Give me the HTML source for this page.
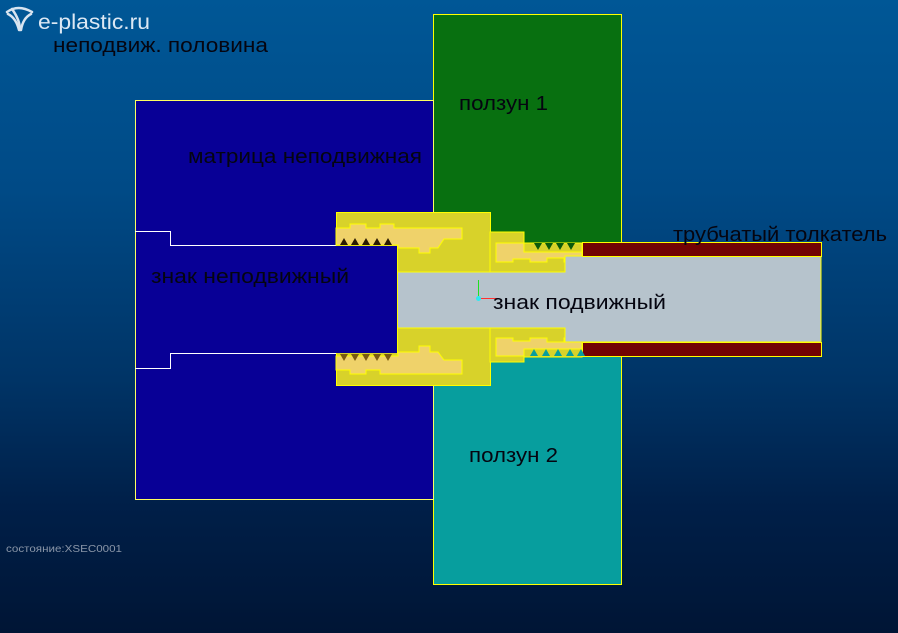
<!DOCTYPE html>
<html><head><meta charset="utf-8"><style>
html,body{margin:0;padding:0;width:898px;height:633px;overflow:hidden}
body{background:linear-gradient(#005796 0%,#004a86 30%,#003466 60%,#001f48 80%,#001535 100%)}
svg{position:absolute;left:0;top:0}
text{font-family:"Liberation Sans","DejaVu Sans",sans-serif}
</style></head><body>
<svg width="898" height="633" viewBox="0 0 898 633">
<rect x="433.5" y="14.5" width="188" height="230" fill="#087010" stroke="#ffff00" stroke-width="1"/>
<rect x="433.5" y="355.5" width="188" height="229" fill="#079e9e" stroke="#ffff00" stroke-width="1"/>
<rect x="135.5" y="100.5" width="298" height="399" fill="#080096" stroke="#ffff60" stroke-width="1"/>
<polyline points="135,231.5 170.5,231.5 170.5,245.5 398,245.5" fill="none" stroke="#ffffff" stroke-width="1"/>
<polyline points="135,368.5 170.5,368.5 170.5,353.5 398,353.5" fill="none" stroke="#ffffff" stroke-width="1"/>
<rect x="336.5" y="212.5" width="154" height="173" fill="#d8d22a" stroke="#ffff00" stroke-width="1"/>
<polygon points="490,232 524,232 524,243 582,243 582,357 524,357 524,362 490,362" fill="#d8d22a" stroke="#ffff00" stroke-width="1"/>
<polygon points="336,228 350,228 350,224 366,224 366,228 380,228 380,224 394,224 394,228 462,228 462,239 444,239 438,248 430,248 430,253 419,253 419,248 398,248 398,245 336,245" fill="#efd26a" stroke="#ffff00" stroke-width="1"/>
<polygon points="336,370 350,370 350,374 366,374 366,370 380,370 380,374 462,374 462,360 444,360 438,352 430,352 430,346 419,346 419,352 398,352 398,356 336,356" fill="#efd26a" stroke="#ffff00" stroke-width="1"/>
<polygon points="496,243 524,243 524,252 582,252 582,262 564,262 564,258 547,258 547,262 530,262 530,259 513,259 513,262 496,262" fill="#efd26a" stroke="#ffff00" stroke-width="1"/>
<polygon points="496,338 513,338 513,341 530,341 530,338 547,338 547,342 564,342 564,338 582,338 582,349 524,349 524,356 496,356" fill="#efd26a" stroke="#ffff00" stroke-width="1"/>
<polygon points="397,272 565,272 565,256 821,256 821,342 565,342 565,328 397,328" fill="#b6c3cc" stroke="#ffff00" stroke-width="1"/>
<rect x="398" y="273" width="167" height="54" fill="#b6c3cc"/>
<rect x="136" y="246" width="261" height="107" fill="#080096"/>
<line x1="397.5" y1="245" x2="397.5" y2="354" stroke="#ffff00"/>
<rect x="582.5" y="242.5" width="239" height="14" fill="#720303" stroke="#ffff00" stroke-width="1"/>
<rect x="582.5" y="342.5" width="239" height="14" fill="#720303" stroke="#ffff00" stroke-width="1"/>
<g fill="#2a1a00">
<polygon points="340,245 344,238 348,245"/><polygon points="351,245 355,238 359,245"/><polygon points="362,245 366,238 370,245"/><polygon points="373,245 377,238 381,245"/><polygon points="384,245 388,238 392,245"/>
</g>
<g fill="#7a5a10">
<polygon points="340,354 344,361 348,354"/><polygon points="351,354 355,361 359,354"/><polygon points="362,354 366,361 370,354"/><polygon points="373,354 377,361 381,354"/><polygon points="384,354 388,361 392,354"/>
</g>
<g fill="#0a5a0a">
<polygon points="534,243 538,250 542,243"/><polygon points="545,243 549,250 553,243"/><polygon points="556,243 560,250 564,243"/><polygon points="567,243 571,250 575,243"/>
</g>
<g fill="#079e9e">
<polygon points="530,356 534,349 538,356"/><polygon points="542,356 546,349 550,356"/><polygon points="554,356 558,349 562,356"/><polygon points="566,356 570,349 574,356"/><polygon points="577,356 581,349 585,356"/>
</g>
<line x1="478.5" y1="280" x2="478.5" y2="298" stroke="#20e020" stroke-width="1"/>
<line x1="478" y1="298.5" x2="498" y2="298.5" stroke="#ff3030" stroke-width="1"/>
<circle cx="478.5" cy="298.5" r="2.5" fill="#30e8f0"/>
<g fill="none" stroke="#d8e4f0" stroke-width="2.5" stroke-linecap="round">
<path d="M7,12 Q18,4 32,12"/><path d="M8,14 Q16,18 19,30"/><path d="M31,14 Q23,18 21,30"/><path d="M12,9 Q20,20 20,30"/>
</g>
<text x="38" y="29" font-size="21" fill="#dce8f4" textLength="112" lengthAdjust="spacingAndGlyphs">e-plastic.ru</text>
<g fill="#050510" font-size="20">
<text x="53" y="52" textLength="215" lengthAdjust="spacingAndGlyphs">неподвиж. половина</text>
<text x="459" y="110" textLength="89" lengthAdjust="spacingAndGlyphs">ползун 1</text>
<text x="188" y="163" textLength="234" lengthAdjust="spacingAndGlyphs">матрица неподвижная</text>
<text x="673" y="241" textLength="214" lengthAdjust="spacingAndGlyphs">трубчатый толкатель</text>
<text x="151" y="283" textLength="198" lengthAdjust="spacingAndGlyphs">знак неподвижный</text>
<text x="493" y="309" textLength="173" lengthAdjust="spacingAndGlyphs">знак подвижный</text>
<text x="469" y="462" textLength="89" lengthAdjust="spacingAndGlyphs">ползун 2</text>
</g>
<text x="6" y="552" font-size="10" fill="#8a96a8" font-family="Liberation Mono,monospace" textLength="116" lengthAdjust="spacingAndGlyphs">состояние:XSEC0001</text>
</svg>
</body></html>
